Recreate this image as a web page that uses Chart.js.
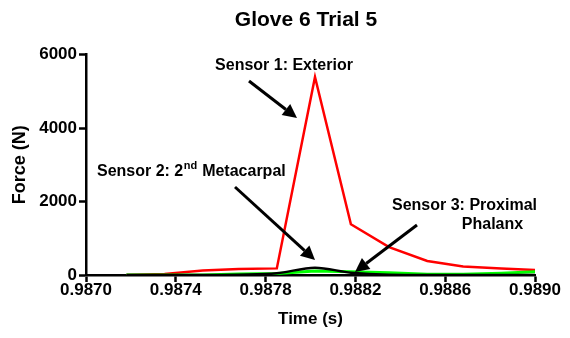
<!DOCTYPE html>
<html>
<head>
<meta charset="utf-8">
<script src="https://cdn.jsdelivr.net/npm/chart.js@4.4.1/dist/chart.umd.min.js"></script>
<style>
  html, body { margin: 0; padding: 0; background: #fff; }
  #wrap { width: 570px; height: 338px; }
</style>
</head>
<body>
<div id="wrap"><canvas id="c" width="570" height="338"></canvas></div>
<script>
// ---- data ----
const times   = [0.98718, 0.98735, 0.98752, 0.98768, 0.98785, 0.98802, 0.98818, 0.98835, 0.98852, 0.98868, 0.98885, 0.98902];
const sensor1 = [0, 30, 120, 165, 180, 5390, 1380, 760, 380, 230, 180, 130];   // Exterior (red)
const sensor2 = [0, 0, 0, 10, 45, 200, 60, 5, 0, 0, 0, 0];                     // 2nd Metacarpal (black)
const sensor3 = [0, 0, 0, 30, 40, 110, 90, 60, 20, 20, 50, 90];                // Proximal Phalanx (green)
const xTicks  = [0.9870, 0.9874, 0.9878, 0.9882, 0.9886, 0.9890];
const yTicks  = [0, 2000, 4000, 6000];
const titleText = 'Glove 6 Trial 5';
const xTitle = 'Time (s)';
const yTitle = 'Force (N)';

const FONT = "'Liberation Sans', Arial, Helvetica, sans-serif";

function pts(vals) { return times.map((t, i) => ({ x: t, y: vals[i] })); }

function arrow(ctx, x1, y1, x2, y2) {
  const ang = Math.atan2(y2 - y1, x2 - x1);
  const hl = 14, hw = 7;
  const bx = x2 - hl * Math.cos(ang), by = y2 - hl * Math.sin(ang);
  ctx.save();
  ctx.strokeStyle = '#000';
  ctx.fillStyle = '#000';
  ctx.lineWidth = 3;
  ctx.beginPath();
  ctx.moveTo(x1, y1);
  ctx.lineTo(bx, by);
  ctx.stroke();
  ctx.beginPath();
  ctx.moveTo(x2, y2);
  ctx.lineTo(bx + hw * Math.sin(ang), by - hw * Math.cos(ang));
  ctx.lineTo(bx - hw * Math.sin(ang), by + hw * Math.cos(ang));
  ctx.closePath();
  ctx.fill();
  ctx.restore();
}

const annotations = {
  id: 'annotations',
  afterDatasetsDraw(chart) {
    const ctx = chart.ctx;
    ctx.save();
    ctx.fillStyle = '#000';
    ctx.textBaseline = 'middle';
    // title
    ctx.font = 'bold 21px ' + FONT;
    ctx.textAlign = 'center';
    ctx.fillText(titleText, 306, 20);

    ctx.font = 'bold 16px ' + FONT;
    // Sensor 1
    ctx.textAlign = 'center';
    ctx.fillText('Sensor 1: Exterior', 284, 66);
    // Sensor 2 with superscript
    ctx.textAlign = 'left';
    let x = 97;
    const y2 = 171.5;
    const p1 = 'Sensor 2: 2';
    ctx.fillText(p1, x, y2);
    x += ctx.measureText(p1).width + 0.5;
    ctx.font = 'bold 11px ' + FONT;
    ctx.fillText('nd', x, y2 - 6);
    x += ctx.measureText('nd').width + 0.5;
    ctx.font = 'bold 16px ' + FONT;
    ctx.fillText(' Metacarpal', x, y2);
    // Sensor 3
    ctx.textAlign = 'center';
    ctx.fillText('Sensor 3: Proximal', 464.5, 206);
    ctx.fillText('Phalanx', 492.5, 225);
    ctx.restore();

    arrow(ctx, 249, 81, 297, 118);
    arrow(ctx, 235, 187, 315, 260);
    arrow(ctx, 417, 225, 355, 272);
  }
};

new Chart(document.getElementById('c'), {
  type: 'scatter',
  data: {
    datasets: [
      { label: 'Sensor 2: 2nd Metacarpal', data: pts(sensor2), showLine: true, borderColor: '#000000', backgroundColor: '#000000', borderWidth: 2.5, pointRadius: 0, cubicInterpolationMode: 'monotone', order: 0 },
      { label: 'Sensor 3: Proximal Phalanx', data: pts(sensor3), showLine: true, borderColor: '#00ff00', backgroundColor: '#00ff00', borderWidth: 3, pointRadius: 0, order: 1 },
      { label: 'Sensor 1: Exterior', data: pts(sensor1), showLine: true, borderColor: '#ff0000', backgroundColor: '#ff0000', borderWidth: 2.5, pointRadius: 0, order: 2 }
    ]
  },
  options: {
    responsive: false,
    animation: false,
    devicePixelRatio: 1,
    layout: { padding: { left: 0, right: 35, top: 54.5, bottom: 0 } },
    plugins: {
      legend: { display: false },
      tooltip: { enabled: false },
      title: { display: false }
    },
    scales: {
      x: {
        type: 'linear',
        min: xTicks[0],
        max: xTicks[xTicks.length - 1],
        afterBuildTicks(scale) { scale.ticks = xTicks.map(v => ({ value: v })); },
        afterFit(scale) { scale.height = 63; },
        grid: { display: true, drawOnChartArea: false, drawTicks: true, tickLength: 7, tickColor: '#000', tickWidth: 2.5 },
        border: { display: true, color: '#000', width: 2.5 },
        ticks: {
          color: '#000',
          padding: 0,
          maxRotation: 0,
          autoSkip: false,
          font: { family: FONT, size: 17, weight: 'bold', lineHeight: 1 },
          callback: (v) => Number(v).toFixed(4)
        },
        title: {
          display: true, text: xTitle, color: '#000',
          font: { family: FONT, size: 17, weight: 'bold', lineHeight: 1.2 },
          padding: { top: 0, bottom: 8.5 }
        }
      },
      y: {
        type: 'linear',
        min: yTicks[0],
        max: yTicks[yTicks.length - 1],
        afterBuildTicks(scale) { scale.ticks = yTicks.map(v => ({ value: v })); },
        afterFit(scale) { scale.width = 86; },
        grid: { display: true, drawOnChartArea: false, drawTicks: true, tickLength: 7, tickColor: '#000', tickWidth: 2.5 },
        border: { display: true, color: '#000', width: 2.5 },
        ticks: {
          color: '#000',
          padding: 2,
          autoSkip: false,
          font: { family: FONT, size: 17, weight: 'bold' },
          callback: (v) => String(v)
        },
        title: {
          display: true, text: yTitle, color: '#000',
          font: { family: FONT, size: 18, weight: 'bold', lineHeight: 1.2 },
          padding: { top: 9, bottom: 0 }
        }
      }
    }
  },
  plugins: [annotations]
});
</script>
</body>
</html>
